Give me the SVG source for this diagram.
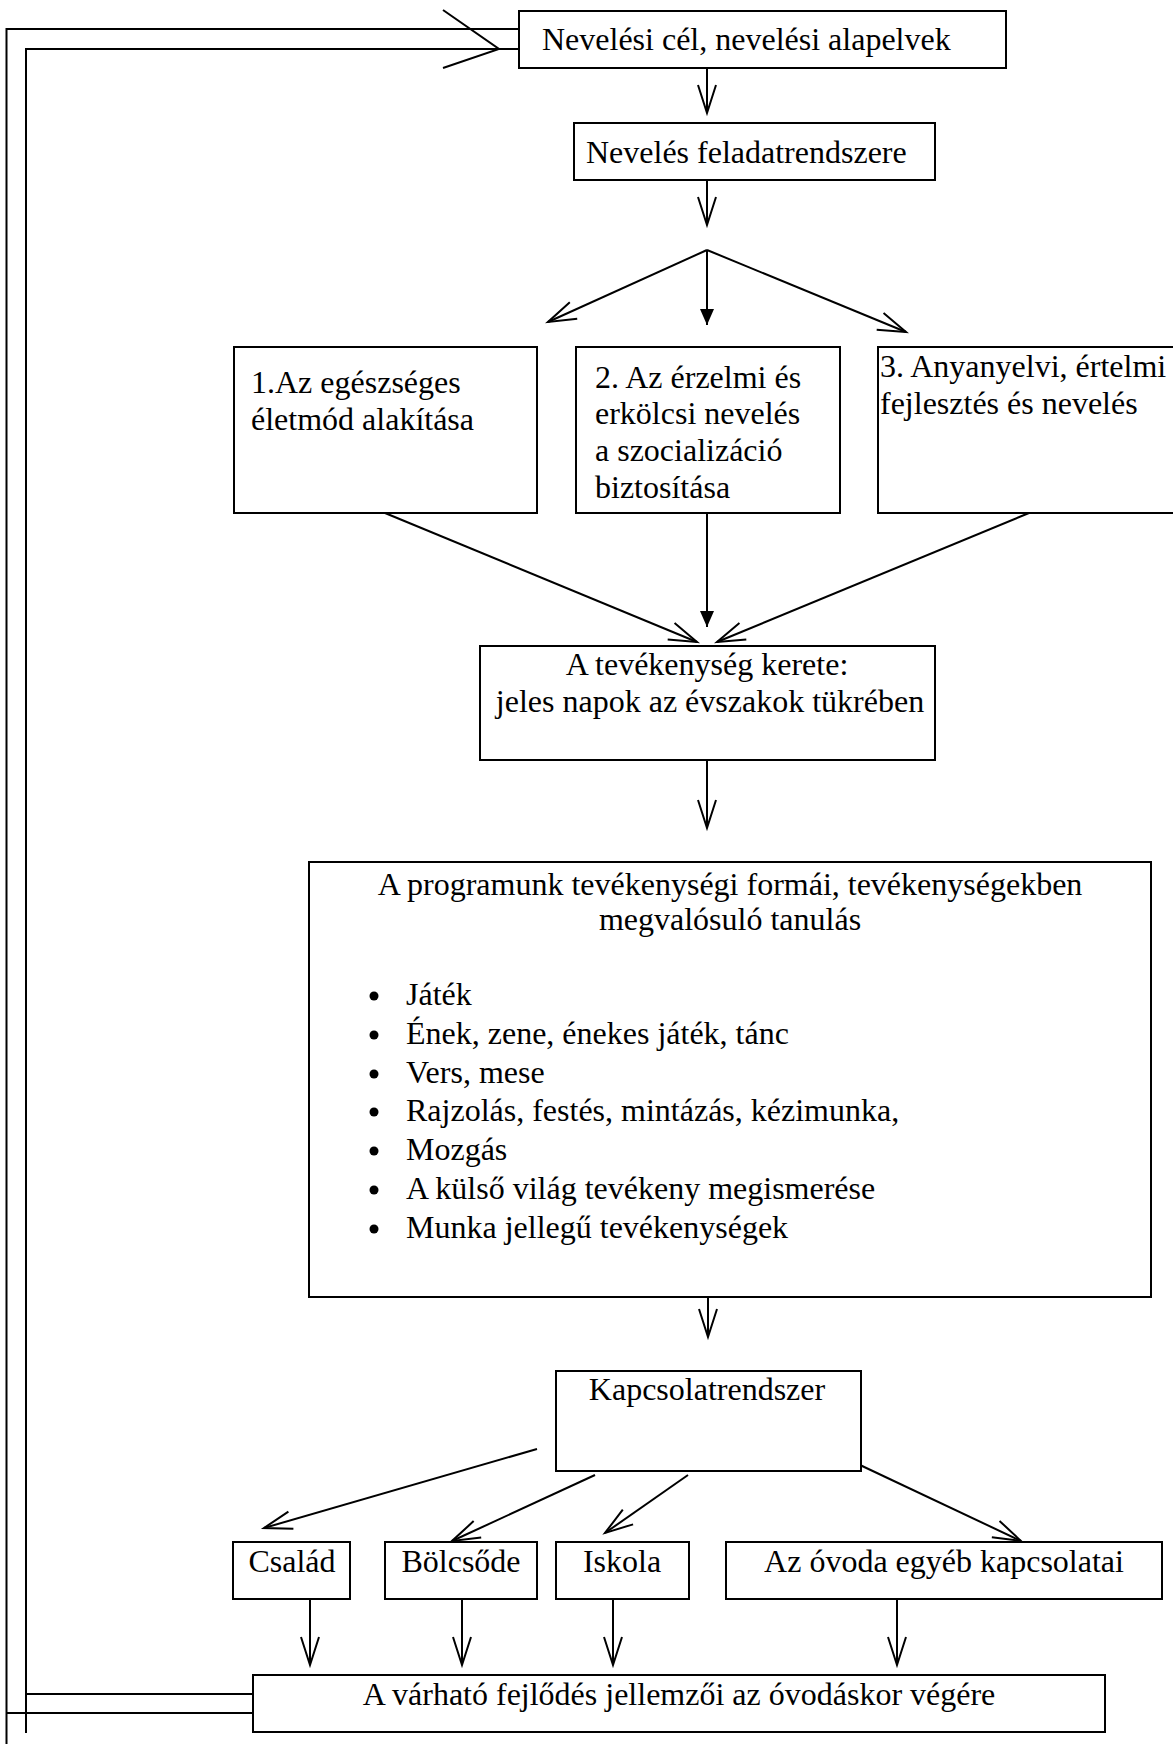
<svg xmlns="http://www.w3.org/2000/svg" width="1173" height="1744" viewBox="0 0 1173 1744">
<style>
  .box { fill: #fff; stroke: #000; stroke-width: 2; }
  .t { font-family: "Liberation Serif", "Times New Roman", serif; font-size: 32px; fill: #000; }
  .c { text-anchor: middle; }
  .ln { stroke: #000; stroke-width: 2; fill: none; }
  .open { marker-end: url(#openArrow); }
  .fill { marker-end: url(#fillArrow); }
</style>
<defs>
  <marker id="openArrow" markerUnits="userSpaceOnUse" viewBox="-32 -12 36 24" markerWidth="36" markerHeight="24" refX="0" refY="0" orient="auto" overflow="visible">
    <path d="M-28,-9 L0,0 L-28,9" fill="none" stroke="#000" stroke-width="2"/>
  </marker>
  <marker id="fillArrow" markerUnits="userSpaceOnUse" viewBox="-18 -8 20 16" markerWidth="20" markerHeight="16" refX="0" refY="0" orient="auto" overflow="visible">
    <path d="M-16,-7 L0,0 L-16,7 Z" fill="#000" stroke="none"/>
  </marker>
</defs>
<rect x="0" y="0" width="1173" height="1744" fill="#fff"/>

<g id="connectors">
  <path class="ln" d="M519,29 H6.5 V1744"/>
  <path class="ln" d="M253,1713 H6.5"/>
  <path class="ln" d="M253,1694 H26"/>
  <path class="ln" d="M26,1733 V49 H519"/>
  <path class="ln" d="M443,10 L499,49 L443,68"/>

  <line class="ln open" x1="707" y1="68" x2="707" y2="113"/>
  <line class="ln open" x1="707" y1="180" x2="707" y2="225"/>
  <line class="ln open" x1="707" y1="250" x2="548" y2="322"/>
  <line class="ln fill" x1="707" y1="250" x2="707" y2="325"/>
  <line class="ln open" x1="707" y1="250" x2="906" y2="332"/>

  <line class="ln open" x1="385" y1="513" x2="697" y2="642"/>
  <line class="ln fill" x1="707" y1="513" x2="707" y2="627"/>
  <line class="ln open" x1="1029" y1="513" x2="717" y2="642"/>

  <line class="ln open" x1="707" y1="760" x2="707" y2="828"/>
  <line class="ln open" x1="708" y1="1272" x2="708" y2="1337"/>

  <line class="ln open" x1="537" y1="1449" x2="264" y2="1528"/>
  <line class="ln open" x1="595" y1="1475" x2="452" y2="1541"/>
  <line class="ln open" x1="688" y1="1475" x2="605" y2="1533"/>
  <line class="ln open" x1="860" y1="1465" x2="1021" y2="1541"/>

  <line class="ln open" x1="310" y1="1599" x2="310" y2="1665"/>
  <line class="ln open" x1="462" y1="1599" x2="462" y2="1665"/>
  <line class="ln open" x1="613" y1="1599" x2="613" y2="1665"/>
  <line class="ln open" x1="897" y1="1599" x2="897" y2="1665"/>
</g>

<g id="node-celok">
  <rect class="box" x="519" y="11" width="487" height="57"/>
  <text class="t" x="542" y="50">Nevelési cél, nevelési alapelvek</text>
</g>

<g id="node-feladatrendszer">
  <rect class="box" x="574" y="123" width="361" height="57"/>
  <text class="t" x="586" y="163">Nevelés feladatrendszere</text>
</g>

<g id="node-egeszseges">
  <rect class="box" x="234" y="347" width="303" height="166"/>
  <text class="t" x="251" y="393">1.Az egészséges</text>
  <text class="t" x="251" y="430">életmód alakítása</text>
</g>

<g id="node-erzelmi">
  <rect class="box" x="576" y="347" width="264" height="166"/>
  <text class="t" x="595" y="388">2. Az érzelmi és</text>
  <text class="t" x="595" y="424">erkölcsi nevelés</text>
  <text class="t" x="595" y="461">a szocializáció</text>
  <text class="t" x="595" y="498">biztosítása</text>
</g>

<g id="node-anyanyelvi">
  <rect class="box" x="878" y="347" width="320" height="166"/>
  <text class="t" x="880" y="377">3. Anyanyelvi, értelmi</text>
  <text class="t" x="880" y="414">fejlesztés és nevelés</text>
</g>

<g id="node-keret">
  <rect class="box" x="480" y="646" width="455" height="114"/>
  <text class="t c" x="707" y="675">A tevékenység kerete:</text>
  <text class="t c" x="710" y="712">jeles napok az évszakok tükrében</text>
</g>

<g id="node-formak">
  <rect class="box" x="309" y="862" width="842" height="435"/>
  <text class="t c" x="730" y="895">A programunk tevékenységi formái, tevékenységekben</text>
  <text class="t c" x="730" y="930">megvalósuló tanulás</text>
  <g fill="#000">
    <circle cx="374" cy="996" r="4.5"/>
    <circle cx="374" cy="1035" r="4.5"/>
    <circle cx="374" cy="1074" r="4.5"/>
    <circle cx="374" cy="1112" r="4.5"/>
    <circle cx="374" cy="1151" r="4.5"/>
    <circle cx="374" cy="1190" r="4.5"/>
    <circle cx="374" cy="1229" r="4.5"/>
  </g>
  <text class="t" x="406" y="1005">Játék</text>
  <text class="t" x="406" y="1044">Ének, zene, énekes játék, tánc</text>
  <text class="t" x="406" y="1083">Vers, mese</text>
  <text class="t" x="406" y="1121">Rajzolás, festés, mintázás, kézimunka,</text>
  <text class="t" x="406" y="1160">Mozgás</text>
  <text class="t" x="406" y="1199">A külső világ tevékeny megismerése</text>
  <text class="t" x="406" y="1238">Munka jellegű tevékenységek</text>
</g>

<g id="node-kapcsolatrendszer">
  <rect class="box" x="556" y="1371" width="305" height="100"/>
  <text class="t c" x="707" y="1400">Kapcsolatrendszer</text>
</g>

<g id="node-csalad">
  <rect class="box" x="233" y="1542" width="117" height="57"/>
  <text class="t c" x="292" y="1572">Család</text>
</g>

<g id="node-bolcsode">
  <rect class="box" x="385" y="1542" width="152" height="57"/>
  <text class="t c" x="461" y="1572">Bölcsőde</text>
</g>

<g id="node-iskola">
  <rect class="box" x="556" y="1542" width="133" height="57"/>
  <text class="t c" x="622" y="1572">Iskola</text>
</g>

<g id="node-egyeb">
  <rect class="box" x="726" y="1542" width="436" height="57"/>
  <text class="t c" x="944" y="1572">Az óvoda egyéb kapcsolatai</text>
</g>

<g id="node-varhato">
  <rect class="box" x="253" y="1675" width="852" height="57"/>
  <text class="t c" x="679" y="1705">A várható fejlődés jellemzői az óvodáskor végére</text>
</g>
</svg>
